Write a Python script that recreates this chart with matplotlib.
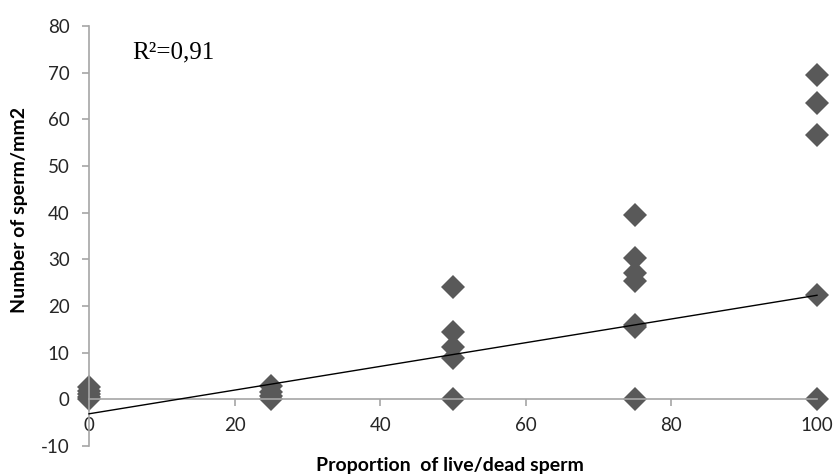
import matplotlib
matplotlib.use("Agg")
import matplotlib.pyplot as plt
import numpy as np

plt.rcParams["axes.unicode_minus"] = False

# Data
x_groups = [0, 25, 50, 75, 100]
y_at_0 = [0.0, 0.4, 1.1, 1.8, 2.6]
y_at_25 = [0.0, 0.8, 1.6, 2.9]
y_at_50 = [24.0, 14.4, 11.2, 8.8, 0.0]
y_at_75 = [39.4, 30.2, 27.1, 25.3, 16.0, 15.4, 0.0]
y_at_100 = [69.6, 63.6, 56.7, 22.4, 0.0]
groups = [y_at_0, y_at_25, y_at_50, y_at_75, y_at_100]

trend_x = [0, 100]
trend_y = [-3.1, 22.3]

x_ticks = [0, 20, 40, 60, 80, 100]
y_ticks = [-10, 0, 10, 20, 30, 40, 50, 60, 70, 80]
r2_text = "R\u00b2=0,91"
x_label = "Proportion  of live/dead sperm"
y_label = "Number of sperm/mm2"

fig = plt.figure(figsize=(8.34, 4.75), dpi=100)
ax = fig.add_axes([89/834, 1-446/475, (817-89)/834, (446-26)/475])

xs, ys = [], []
for gx, vals in zip(x_groups, groups):
    xs += [gx]*len(vals)
    ys += vals

ax.plot(trend_x, trend_y, color="black", lw=1.0, zorder=3, clip_on=False)
ax.plot(xs, ys, linestyle="none", marker="D", markersize=12,
        color="#595959", markeredgewidth=0, zorder=2, clip_on=False)

ax.set_xlim(0, 100)
ax.set_ylim(-10, 80)
ax.set_xticks(x_ticks)
ax.set_yticks(y_ticks)

gray = "#a6a6a6"
for s in ["top", "right"]:
    ax.spines[s].set_visible(False)
ax.spines["bottom"].set_position(("data", 0))
ax.spines["bottom"].set_color(gray)
ax.spines["left"].set_color(gray)
ax.spines["bottom"].set_linewidth(1.2)
ax.spines["left"].set_linewidth(1.2)
ax.tick_params(axis="both", colors=gray, direction="out", length=5, width=1.2)
ax.tick_params(axis="both", labelcolor="#262626", labelsize=13.5)
for lab in ax.get_xticklabels() + ax.get_yticklabels():
    lab.set_family("Lato")
ax.tick_params(axis="y", pad=9)
ax.tick_params(axis="x", pad=8)

ax.text(6.0, 74.3, r2_text, family="Liberation Serif", fontsize=18,
        va="center", ha="left", color="black")

fig.text(450/834, 1-466/475, x_label, family="Lato", fontweight="bold",
         fontsize=14, ha="center", va="center", color="black")
fig.text(20/834, 1-210/475, y_label, family="Lato", fontweight="bold",
         fontsize=14, ha="center", va="center", rotation=90, color="black")

fig.savefig("out.png", dpi=100)
